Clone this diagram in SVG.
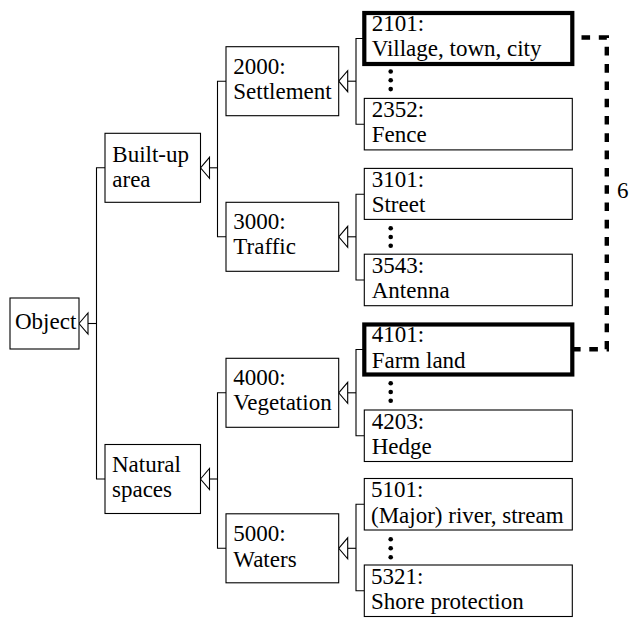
<svg xmlns="http://www.w3.org/2000/svg" xmlns:xlink="http://www.w3.org/1999/xlink" width="629" height="618" viewBox="0 0 629 618">
<style>
  rect.box { fill: #ffffff; stroke: #000000; stroke-width: 1.1; }
  rect.bold { fill: #ffffff; stroke: #000000; stroke-width: 4.2; }
  .conn line, .conn polyline { stroke: #000000; stroke-width: 1.1; fill: none; }
  .gen { fill: #ffffff; stroke: #000000; stroke-width: 1.1; stroke-linejoin: miter; }
  .dash { fill: none; stroke: #000000; stroke-width: 4.4; stroke-dasharray: 8.6 8.7; stroke-dashoffset: 8.3; }
  circle.dot { fill: #000000; }
</style>
<defs>
  <polygon id="genArrow" class="gen" points="0,0 9,-10.5 9,10.5"/>
</defs>

<g id="connectors" class="conn">
  <line x1="88" y1="323.5" x2="96.5" y2="323.5"/>
  <polyline points="105,167.8 96.5,167.8 96.5,479 105,479"/>
  <use xlink:href="#genArrow" x="79" y="323.5"/>
  <line x1="209.5" y1="167.8" x2="217.5" y2="167.8"/>
  <polyline points="226,81.2 217.5,81.2 217.5,236.8 226,236.8"/>
  <use xlink:href="#genArrow" x="200.5" y="167.8"/>
  <line x1="209.5" y1="479" x2="217.5" y2="479"/>
  <polyline points="226,392.8 217.5,392.8 217.5,548.3 226,548.3"/>
  <use xlink:href="#genArrow" x="200.5" y="479"/>
  <line x1="347.7" y1="81.2" x2="356" y2="81.2"/>
  <polyline points="364.3,38.5 356,38.5 356,124.2 364.3,124.2"/>
  <use xlink:href="#genArrow" x="338.7" y="81.2"/>
  <line x1="347.7" y1="236.8" x2="356" y2="236.8"/>
  <polyline points="364.3,194.2 356,194.2 356,280 364.3,280"/>
  <use xlink:href="#genArrow" x="338.7" y="236.8"/>
  <line x1="347.7" y1="392.8" x2="356" y2="392.8"/>
  <polyline points="364.3,349.5 356,349.5 356,435.8 364.3,435.8"/>
  <use xlink:href="#genArrow" x="338.7" y="392.8"/>
  <line x1="347.7" y1="548.3" x2="356" y2="548.3"/>
  <polyline points="364.3,504.3 356,504.3 356,590.8 364.3,590.8"/>
  <use xlink:href="#genArrow" x="338.7" y="548.3"/>
  <path class="dash" d="M572.5,37.5 H606.8 V349.3 H572.5"/>
  <text x="617" y="197.5" font-family="Liberation Serif" font-size="23">6</text>
</g>

<g id="node-object">
  <rect class="box" x="10" y="298" width="69" height="51"/>
  <text x="15" y="329" font-family="Liberation Serif" font-size="23">Object</text>
</g>

<g id="node-builtup">
  <rect class="box" x="105" y="133.3" width="95.5" height="69"/>
  <text x="112.3" y="161.7" font-family="Liberation Serif" font-size="23">Built-up</text>
  <text x="112.3" y="186.7" font-family="Liberation Serif" font-size="23">area</text>
</g>

<g id="node-natural">
  <rect class="box" x="105" y="444.5" width="95.5" height="69"/>
  <text x="112" y="471.7" font-family="Liberation Serif" font-size="23">Natural</text>
  <text x="112" y="496.7" font-family="Liberation Serif" font-size="23">spaces</text>
</g>

<g id="node-2000">
  <rect class="box" x="226" y="46.7" width="112.7" height="69"/>
  <text x="233.3" y="74" font-family="Liberation Serif" font-size="23">2000:</text>
  <text x="233.3" y="99.3" font-family="Liberation Serif" font-size="23">Settlement</text>
</g>

<g id="node-3000">
  <rect class="box" x="226" y="202.3" width="112.7" height="69"/>
  <text x="233.3" y="229" font-family="Liberation Serif" font-size="23">3000:</text>
  <text x="233.3" y="254.3" font-family="Liberation Serif" font-size="23">Traffic</text>
</g>

<g id="node-4000">
  <rect class="box" x="226" y="358.3" width="112.7" height="69"/>
  <text x="233.3" y="385" font-family="Liberation Serif" font-size="23">4000:</text>
  <text x="233.3" y="410" font-family="Liberation Serif" font-size="23">Vegetation</text>
</g>

<g id="node-5000">
  <rect class="box" x="226" y="513.8" width="112.7" height="69"/>
  <text x="233.3" y="540.5" font-family="Liberation Serif" font-size="23">5000:</text>
  <text x="233.3" y="566.5" font-family="Liberation Serif" font-size="23">Waters</text>
</g>

<g id="node-2101">
  <rect class="bold" x="364.3" y="13" width="208" height="51"/>
  <text x="371.7" y="31" font-family="Liberation Serif" font-size="23">2101:</text>
  <text x="371.7" y="56" font-family="Liberation Serif" font-size="23">Village, town, city</text>
</g>

<g id="dots-2000">
  <circle class="dot" cx="390.7" cy="71.5" r="2.3"/>
  <circle class="dot" cx="390.7" cy="80.3" r="2.3"/>
  <circle class="dot" cx="390.7" cy="89.1" r="2.3"/>
</g>

<g id="node-2352">
  <rect class="box" x="364.3" y="98.4" width="208" height="51.5"/>
  <text x="371.7" y="116.9" font-family="Liberation Serif" font-size="23">2352:</text>
  <text x="371.7" y="142.4" font-family="Liberation Serif" font-size="23">Fence</text>
</g>

<g id="node-3101">
  <rect class="box" x="364.3" y="168.4" width="208" height="51"/>
  <text x="371.7" y="186.9" font-family="Liberation Serif" font-size="23">3101:</text>
  <text x="371.7" y="212.4" font-family="Liberation Serif" font-size="23">Street</text>
</g>

<g id="dots-3000">
  <circle class="dot" cx="390.7" cy="228.2" r="2.3"/>
  <circle class="dot" cx="390.7" cy="237" r="2.3"/>
  <circle class="dot" cx="390.7" cy="245.8" r="2.3"/>
</g>

<g id="node-3543">
  <rect class="box" x="364.3" y="254.2" width="208" height="51.5"/>
  <text x="371.7" y="272.7" font-family="Liberation Serif" font-size="23">3543:</text>
  <text x="371.7" y="298.2" font-family="Liberation Serif" font-size="23">Antenna</text>
</g>

<g id="node-4101">
  <rect class="bold" x="364.3" y="324.5" width="208" height="50"/>
  <text x="371.7" y="342.3" font-family="Liberation Serif" font-size="23">4101:</text>
  <text x="371.7" y="368" font-family="Liberation Serif" font-size="23">Farm land</text>
</g>

<g id="dots-4000">
  <circle class="dot" cx="390.7" cy="383.2" r="2.3"/>
  <circle class="dot" cx="390.7" cy="392" r="2.3"/>
  <circle class="dot" cx="390.7" cy="400.8" r="2.3"/>
</g>

<g id="node-4203">
  <rect class="box" x="364.3" y="410" width="208" height="51.5"/>
  <text x="371.7" y="428.5" font-family="Liberation Serif" font-size="23">4203:</text>
  <text x="371.7" y="454" font-family="Liberation Serif" font-size="23">Hedge</text>
</g>

<g id="node-5101">
  <rect class="box" x="364.3" y="478.5" width="208" height="51.5"/>
  <text x="371" y="497" font-family="Liberation Serif" font-size="23">5101:</text>
  <text x="371" y="522.5" font-family="Liberation Serif" font-size="23">(Major) river, stream</text>
</g>

<g id="dots-5000">
  <circle class="dot" cx="390.7" cy="539.3" r="2.3"/>
  <circle class="dot" cx="390.7" cy="548.3" r="2.3"/>
  <circle class="dot" cx="390.7" cy="557.3" r="2.3"/>
</g>

<g id="node-5321">
  <rect class="box" x="364.3" y="565" width="208" height="51.5"/>
  <text x="371" y="584" font-family="Liberation Serif" font-size="23">5321:</text>
  <text x="371" y="609.3" font-family="Liberation Serif" font-size="23">Shore protection</text>
</g>
</svg>
